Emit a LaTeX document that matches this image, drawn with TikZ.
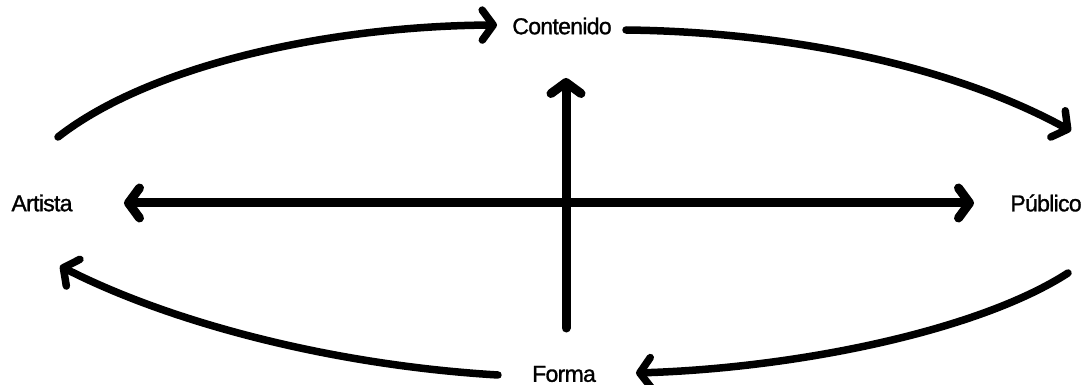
\documentclass[tikz,border=0pt]{standalone}
\usepackage{fontspec}
\setmainfont{Liberation Sans}
\newfontfamily\lblfont[FakeBold=1.2, LetterSpace=-3]{Liberation Sans}
\usetikzlibrary{arrows.meta}
\begin{document}
\begin{tikzpicture}[x=1pt,y=-1pt,
  lbl/.style={font=\lblfont\fontsize{23}{23}\selectfont, inner sep=0pt},
  barb/.tip={Straight Barb[round,length=11pt,width=30pt]},
  arc/.style={line width=7.5pt, line cap=round, -barb},
  axis/.style={line width=9pt, line cap=round}]
\useasboundingbox (0,0) rectangle (1088,385);
% labels
\node[lbl] (con) at (562,26) {Contenido};
\node[lbl] (art) at (42,203) {Artista};
\node[lbl] (pub) at (1046,203) {Público};
\node[lbl] (for) at (564,374) {Forma};
% axis ends
\coordinate (hl) at (124,203);
\coordinate (hr) at (974,203);
\coordinate (vb) at (566,328);
\coordinate (vt) at (566,78);
% arc ends
\coordinate (a1s) at (58,137);
\coordinate (a1e) at (497,25);
\coordinate (a2s) at (626,30);
\coordinate (a2e) at (1071,131);
\coordinate (a3s) at (1068,273);
\coordinate (a3e) at (636,373);
\coordinate (a4s) at (498,375);
\coordinate (a4e) at (60,266);
% axes
\draw[axis, barb-barb] (hl) -- (hr);
\draw[axis, -barb] (vb) -- (vt);
% arcs
\draw[arc] (a1s) .. controls (150,65) and (330,26) .. (a1e);
\draw[arc] (a2s) .. controls (800,32) and (960,70) .. (a2e);
\draw[arc] (a3s) .. controls (980,330) and (800,368) .. (a3e);
\draw[arc] (a4s) .. controls (330,365) and (170,322) .. (a4e);
\end{tikzpicture}
\end{document}
